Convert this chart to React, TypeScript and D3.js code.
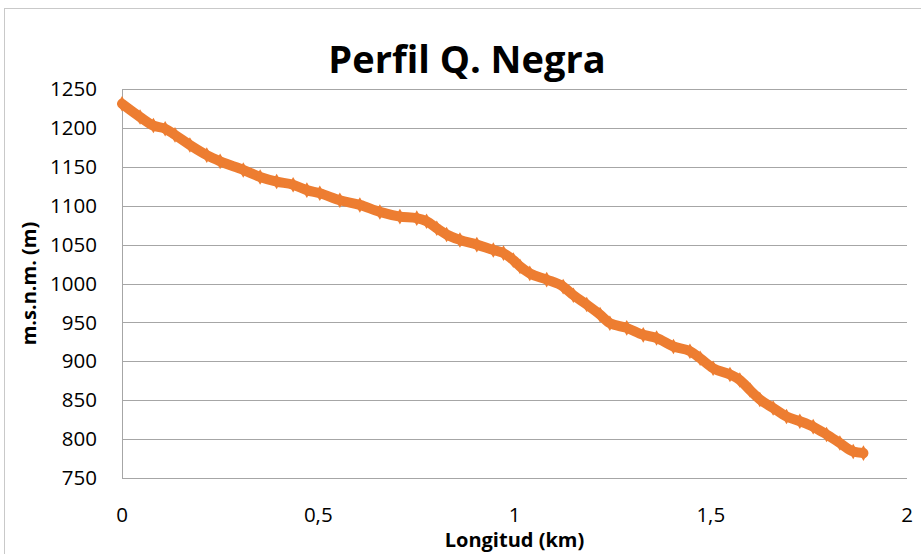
import React from "react";
import * as d3 from "d3";

const distKm = [0, 0.046, 0.08, 0.11, 0.135, 0.173, 0.216, 0.25, 0.309, 0.352, 0.394, 0.436, 0.471, 0.504, 0.555, 0.606, 0.657, 0.708, 0.751, 0.776, 0.802, 0.827, 0.861, 0.904, 0.946, 0.972, 0.997, 1.014, 1.039, 1.082, 1.124, 1.15, 1.184, 1.218, 1.243, 1.286, 1.328, 1.362, 1.405, 1.447, 1.473, 1.506, 1.549, 1.574, 1.6, 1.625, 1.659, 1.693, 1.727, 1.761, 1.795, 1.829, 1.863, 1.889];
const elevM = [1231, 1214, 1203, 1199, 1191, 1178, 1165, 1157, 1146, 1137, 1131, 1127, 1120, 1116, 1107, 1101, 1092, 1086, 1084, 1080, 1071, 1063, 1056, 1050, 1043, 1039, 1030, 1022, 1013, 1005, 996, 985, 973, 960, 949, 943, 934, 930, 919, 913, 904, 891, 883, 876, 863, 851, 840, 829, 823, 816, 806, 795, 784, 782];
const yTicks = [750, 800, 850, 900, 950, 1000, 1050, 1100, 1150, 1200, 1250];
const xTicks = [0, 0.5, 1, 1.5, 2];
const title = "Perfil Q. Negra";
const xTitle = "Longitud (km)";
const yTitle = "m.s.n.m. (m)";

const W = 921, H = 554;
const L = 122, R = 907, T = 89, B = 478;
const FONT = "'Open Sans', 'Liberation Sans', sans-serif";
const ORANGE = "#ED7D31";

export default function App() {
  const x = d3.scaleLinear().domain([0, 2]).range([L, R]);
  const y = d3.scaleLinear().domain([750, 1250]).range([B, T]);
  const pts = distKm.map((d, i) => [d, elevM[i]] as [number, number]);
  const line = d3.line<[number, number]>().curve(d3.curveMonotoneX).x(d => x(d[0])).y(d => y(d[1]));
  const diamond = d3.symbol().type(d3.symbolDiamond).size(70)();
  const fmt = (v: number) => String(v).replace(".", ",");
  return (
    <svg width={W} height={H} style={{ position: "absolute", left: 0, top: 0, background: "#fff" }} fontFamily={FONT}>
      <rect x={0} y={0} width={W} height={H} fill="#fff" />
      <rect x={4.5} y={8.5} width={1200} height={1200} fill="none" stroke="#c9c9c9" strokeWidth={1} />
      {yTicks.map(t => (
        <line key={"g" + t} x1={L} x2={R} y1={Math.round(y(t)) + 0.5} y2={Math.round(y(t)) + 0.5} stroke="#a6a6a6" strokeWidth={1} />
      ))}
      <line x1={L + 0.5} x2={L + 0.5} y1={T} y2={B + 1} stroke="#a6a6a6" strokeWidth={1} />
      {yTicks.map(t => (
        <text key={"y" + t} x={97} y={y(t)} dy="0.35em" textAnchor="end" fontSize={20.5} fill="#000">{t}</text>
      ))}
      {xTicks.map(t => (
        <text key={"x" + t} x={x(t)} y={515} dy="0.35em" textAnchor="middle" fontSize={20.5} fill="#000">{fmt(t)}</text>
      ))}
      <path d={line(pts) || ""} fill="none" stroke={ORANGE} strokeWidth={10} strokeLinejoin="round" strokeLinecap="round" />
      {pts.map((p, i) => (
        <path key={"m" + i} d={diamond || ""} transform={`translate(${x(p[0])},${y(p[1])})`} fill={ORANGE} />
      ))}
      <text x={467} y={73} textAnchor="middle" fontSize={38} fontWeight="bold" fill="#000">{title}</text>
      <text x={(L + R) / 2} y={547} textAnchor="middle" fontSize={20} fontWeight="bold" fill="#000">{xTitle}</text>
      <text transform={`translate(36,${(T + B) / 2}) rotate(-90)`} textAnchor="middle" fontSize={20} fontWeight="bold" fill="#000">{yTitle}</text>
    </svg>
  );
}
